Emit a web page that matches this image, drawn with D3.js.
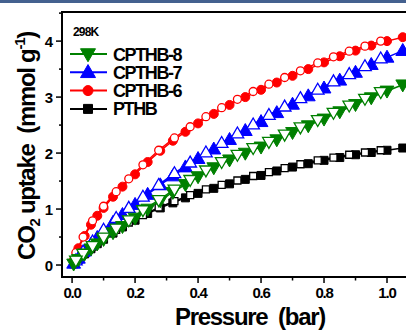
<!DOCTYPE html>
<html>
<head>
<meta charset="utf-8">
<script src="https://cdn.jsdelivr.net/npm/d3@7"></script>
<style>
  html, body { margin: 0; padding: 0; background: #fff; }
  svg { display: block; font-family: "Liberation Sans", Arial, sans-serif; }
</style>
</head>
<body>
<svg id="chart" width="406" height="333"></svg>
<script>
// pressures (bar) of the adsorption and desorption points
const adsP = [0.005, 0.02, 0.04, 0.06, 0.08, 0.10, 0.13, 0.16, 0.20, 0.24, 0.28, 0.32, 0.36, 0.40, 0.45, 0.50, 0.55, 0.60, 0.65, 0.70, 0.75, 0.80, 0.85, 0.90, 0.95, 1.00, 1.05]
const desP = [0.98, 0.93, 0.88, 0.83, 0.78, 0.725, 0.675, 0.625, 0.575, 0.525, 0.475, 0.425, 0.375, 0.325, 0.275, 0.225, 0.18, 0.14, 0.10, 0.065, 0.035, 0.012]

// uptake (mmol/g)
const cpthb6Ads = [0.08, 0.30, 0.52, 0.72, 0.88, 1.02, 1.22, 1.40, 1.62, 1.84, 2.04, 2.22, 2.38, 2.53, 2.70, 2.86, 3.00, 3.13, 3.26, 3.38, 3.50, 3.62, 3.73, 3.83, 3.92, 4.00, 4.07]
const cpthb6Des = [4.00, 3.91, 3.82, 3.72, 3.61, 3.47, 3.35, 3.23, 3.10, 2.96, 2.81, 2.65, 2.47, 2.27, 2.05, 1.79, 1.54, 1.31, 1.05, 0.79, 0.50, 0.22]
const cpthb7Ads = [0.03, 0.12, 0.25, 0.37, 0.49, 0.60, 0.76, 0.90, 1.08, 1.26, 1.43, 1.59, 1.75, 1.90, 2.07, 2.24, 2.40, 2.56, 2.72, 2.87, 3.02, 3.16, 3.30, 3.44, 3.58, 3.71, 3.83]
const cpthb7Des = [3.69, 3.55, 3.41, 3.28, 3.13, 2.98, 2.83, 2.68, 2.51, 2.35, 2.18, 2.01, 1.83, 1.64, 1.43, 1.22, 1.02, 0.84, 0.63, 0.42, 0.24, 0.08]
const cpthb8Ads = [0.02, 0.10, 0.20, 0.29, 0.38, 0.46, 0.58, 0.69, 0.84, 1.00, 1.15, 1.30, 1.44, 1.58, 1.74, 1.88, 2.00, 2.11, 2.24, 2.37, 2.49, 2.61, 2.74, 2.87, 2.99, 3.11, 3.22]
const cpthb8Des = [3.09, 2.97, 2.85, 2.72, 2.59, 2.46, 2.33, 2.20, 2.09, 1.97, 1.84, 1.69, 1.52, 1.35, 1.16, 0.98, 0.80, 0.65, 0.49, 0.34, 0.20, 0.08]
const pthbAds = [0.02, 0.10, 0.20, 0.29, 0.38, 0.46, 0.57, 0.68, 0.80, 0.92, 1.02, 1.11, 1.20, 1.28, 1.37, 1.45, 1.53, 1.60, 1.68, 1.75, 1.81, 1.87, 1.92, 1.97, 2.01, 2.05, 2.09]
const pthbDes = [2.05, 2.01, 1.97, 1.92, 1.87, 1.80, 1.73, 1.66, 1.59, 1.51, 1.43, 1.35, 1.25, 1.14, 1.03, 0.89, 0.76, 0.63, 0.48, 0.33, 0.19, 0.08]

const xTicks = [0.0, 0.2, 0.4, 0.6, 0.8, 1.0]
const yTicks = [0, 1, 2, 3, 4]

// drawing order: first drawn is at the back
const series = [
  { name: 'PTHB', color: '#000000', shape: 'square', ads: pthbAds, des: pthbDes },
  { name: 'CPTHB-6', color: '#ff0000', shape: 'circle', ads: cpthb6Ads, des: cpthb6Des },
  { name: 'CPTHB-7', color: '#0000ff', shape: 'up', ads: cpthb7Ads, des: cpthb7Des },
  { name: 'CPTHB-8', color: '#008000', shape: 'down', ads: cpthb8Ads, des: cpthb8Des }
]
const legendOrder = ['CPTHB-8', 'CPTHB-7', 'CPTHB-6', 'PTHB']

const svg = d3.select('#chart')

// dark band at the top of the crop
svg.append('rect').attr('x', 0).attr('y', 0).attr('width', 406).attr('height', 3).attr('fill', '#44618f')

const x = d3.scaleLinear().domain([-0.032, 1.1]).range([62, 418.5])
const y = d3.scaleLinear().domain([-0.214, 4.52]).range([277, 12])

function shapePath(shape, size) {
  const s = size
  if (shape === 'up') return `M0,${-s * 0.62}L${s * 0.6},${s * 0.42}L${-s * 0.6},${s * 0.42}Z`
  if (shape === 'down') return `M0,${s * 0.62}L${s * 0.6},${-s * 0.42}L${-s * 0.6},${-s * 0.42}Z`
  if (shape === 'square') return `M${-s / 2},${-s / 2}h${s}v${s}h${-s}Z`
  const r = s / 2
  return `M${r},0A${r},${r} 0 1,1 ${-r},0A${r},${r} 0 1,1 ${r},0Z`
}
const sizes = { circle: 9, up: 11.5, down: 11.5, square: 8 }

svg.append('defs').append('clipPath').attr('id', 'plot')
  .append('rect').attr('x', 62).attr('y', 12).attr('width', 360).attr('height', 265)

const plot = svg.append('g').attr('clip-path', 'url(#plot)')
const line = d3.line().x(d => x(d[0])).y(d => y(d[1]))

series.forEach(s => {
  const ads = adsP.map((p, i) => [p, s.ads[i]])
  const des = desP.map((p, i) => [p, s.des[i]])
  const g = plot.append('g')
  g.append('path').datum(ads).attr('d', line).attr('fill', 'none').attr('stroke', s.color).attr('stroke-width', 1.5)
  g.append('path').datum(des).attr('d', line).attr('fill', 'none').attr('stroke', s.color).attr('stroke-width', 1.5)
  g.selectAll('.ads').data(ads).join('path')
    .attr('transform', d => `translate(${x(d[0])},${y(d[1])})`)
    .attr('d', shapePath(s.shape, sizes[s.shape]))
    .attr('fill', s.color).attr('stroke', s.color).attr('stroke-width', 1)
  g.selectAll('.des').data(des).join('path')
    .attr('transform', d => `translate(${x(d[0])},${y(d[1])})`)
    .attr('d', shapePath(s.shape, sizes[s.shape] - 1))
    .attr('fill', '#fff').attr('stroke', s.color).attr('stroke-width', 1.3)
})

// frame
const axisG = svg.append('g').attr('stroke', '#000').attr('fill', 'none')
axisG.append('line').attr('x1', 62).attr('x2', 62).attr('y1', 11).attr('y2', 278).attr('stroke-width', 2)
axisG.append('line').attr('x1', 61).attr('x2', 406).attr('y1', 277).attr('y2', 277).attr('stroke-width', 2)
axisG.append('line').attr('x1', 61).attr('x2', 406).attr('y1', 12).attr('y2', 12).attr('stroke-width', 2)

// ticks
yTicks.forEach(v => {
  axisG.append('line').attr('x1', 56).attr('x2', 62).attr('y1', y(v)).attr('y2', y(v)).attr('stroke-width', 1.5)
  axisG.append('line').attr('x1', 59).attr('x2', 62).attr('y1', y(v + 0.5)).attr('y2', y(v + 0.5)).attr('stroke-width', 1.5)
})
xTicks.forEach(v => {
  axisG.append('line').attr('x1', x(v)).attr('x2', x(v)).attr('y1', 277).attr('y2', 283).attr('stroke-width', 1.5)
  if (v < 1.0) axisG.append('line').attr('x1', x(v + 0.1)).attr('x2', x(v + 0.1)).attr('y1', 277).attr('y2', 280.5).attr('stroke-width', 1.5)
})

svg.append('g').selectAll('text').data(yTicks).join('text')
  .attr('x', 53).attr('y', d => y(d) + 5.5)
  .attr('text-anchor', 'end').attr('font-size', 15).attr('font-weight', 'bold')
  .text(d => d)

svg.append('g').selectAll('text').data(xTicks).join('text')
  .attr('x', d => x(d)).attr('y', 298)
  .attr('text-anchor', 'middle').attr('font-size', 15).attr('font-weight', 'bold').attr('letter-spacing', -1.2)
  .text(d => d.toFixed(1))

// axis titles
svg.append('text').attr('x', 250).attr('y', 325).attr('text-anchor', 'middle')
  .attr('font-size', 24).attr('font-weight', 'bold').attr('letter-spacing', -1.3)
  .attr('xml:space', 'preserve')
  .text('Pressure  (bar)')

const yt = svg.append('text').attr('transform', 'translate(35,146) rotate(-90)')
  .attr('text-anchor', 'middle').attr('font-size', 24).attr('font-weight', 'bold').attr('letter-spacing', -1.3)
  .attr('xml:space', 'preserve')
yt.append('tspan').text('CO')
yt.append('tspan').attr('font-size', 15).attr('dy', 5).text('2')
yt.append('tspan').attr('dy', -5).text(' uptake  (mmol g')
yt.append('tspan').attr('font-size', 15).attr('dy', -10).text('-1')
yt.append('tspan').attr('dy', 10).text(')')

// legend
svg.append('text').attr('x', 73).attr('y', 36).attr('font-size', 12).attr('font-weight', 'bold').attr('letter-spacing', -0.8).text('298K')
legendOrder.forEach((name, i) => {
  const s = series.find(d => d.name === name)
  const ly = 54 + i * 18.3
  svg.append('line').attr('x1', 70).attr('x2', 107).attr('y1', ly).attr('y2', ly).attr('stroke', s.color).attr('stroke-width', 2)
  svg.append('path').attr('transform', `translate(88,${ly})`).attr('d', shapePath(s.shape, sizes[s.shape] + 1))
    .attr('fill', s.color).attr('stroke', s.color)
  svg.append('text').attr('x', 113).attr('y', ly + 6.5).attr('font-size', 18).attr('font-weight', 'bold')
    .attr('letter-spacing', -1.4).text(name)
})
</script>
</body>
</html>
